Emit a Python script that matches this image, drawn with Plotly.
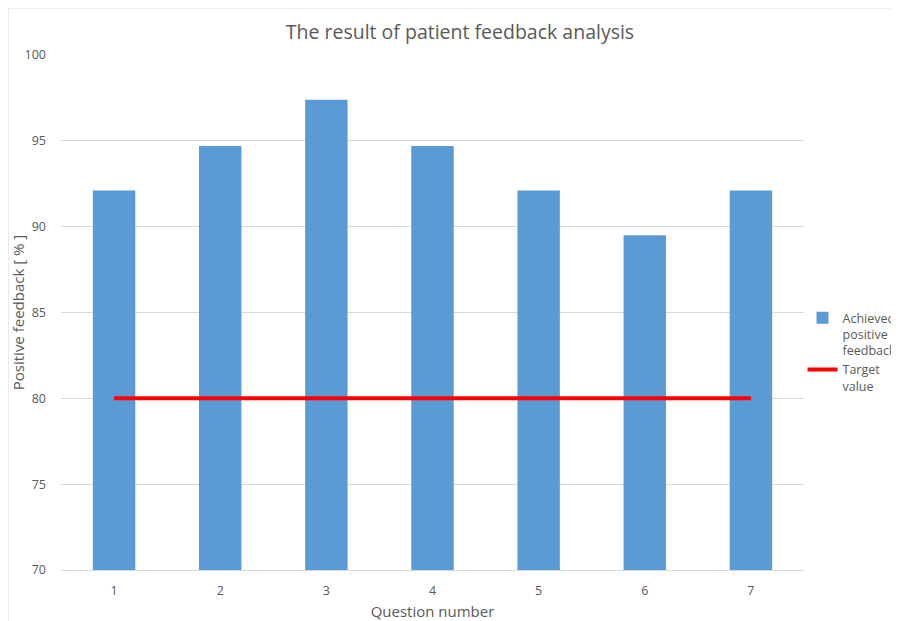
import plotly.graph_objects as go

questions = ["1", "2", "3", "4", "5", "6", "7"]
achieved = [92.1, 94.7, 97.4, 94.7, 92.1, 89.5, 92.1]
target = [80, 80, 80, 80, 80, 80, 80]
y_ticks = [70, 75, 80, 85, 90, 95, 100]

grey = "#595959"
font_family = "Open Sans, Liberation Sans, sans-serif"

fig = go.Figure()
fig.add_trace(go.Bar(
    x=questions, y=achieved,
    name="Achieved<br>positive<br>feedback",
    marker=dict(color="#5b9bd5", line=dict(width=0)),
))
fig.add_trace(go.Scatter(
    x=questions, y=target, mode="lines",
    name="Target<br>value",
    line=dict(color="#ff0000", width=4),
))

# the page body adds an 8px offset, so the figure is drawn 8px smaller
fig.update_layout(
    width=891, height=613,
    paper_bgcolor="white", plot_bgcolor="white",
    margin=dict(l=53, r=95, t=47, b=51, autoexpand=False),
    bargap=0.6,
    font=dict(family=font_family, color=grey, size=12),
    title=dict(text="The result of patient feedback analysis",
               x=0.537, xref="paper", xanchor="center",
               yref="container", y=0.961, yanchor="middle",
               font=dict(size=19.5, color=grey, family=font_family)),
    showlegend=True,
    legend=dict(x=0.998, y=0.518, xanchor="left", yanchor="top",
                font=dict(size=12.5, color=grey), bgcolor="rgba(0,0,0,0)",
                itemwidth=30, valign="top"),
    xaxis=dict(type="category", showgrid=False, showline=True,
               linecolor="#d9d9d9", linewidth=1, ticks="",
               ticklabelstandoff=9,
               tickfont=dict(size=12.5, color=grey),
               title=dict(text="Question number", font=dict(size=15, color=grey), standoff=10)),
    yaxis=dict(range=[70, 100], tickvals=y_ticks, showgrid=True,
               gridcolor="#d9d9d9", gridwidth=1, zeroline=False,
               showline=False, ticks="", ticklabelstandoff=14,
               tickfont=dict(size=12.5, color=grey),
               title=dict(text="Positive feedback [ % ]", font=dict(size=15, color=grey), standoff=6)),
    shapes=[dict(type="rect", xref="paper", yref="paper",
                 x0=-0.0713, y0=-0.2, x1=1.3, y1=1.0913,
                 line=dict(color="#d9d9d9", width=1), layer="below")],
)

fig.write_html("out.html")
